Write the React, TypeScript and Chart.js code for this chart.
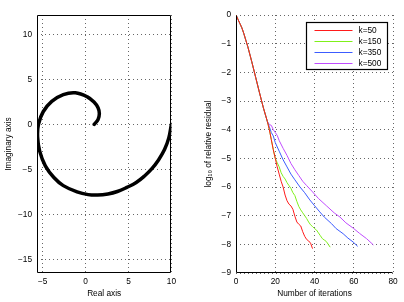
import React, { useEffect, useRef } from "react";
import { Chart, registerables } from "chart.js";
Chart.register(...registerables);

// ---- Left panel: spiral in the complex plane ----
const spiralRe = [1.0, 1.45, 1.6, 1.45, 1.0, 0.2, -1.2, -2.6, -3.95, -4.95, -5.5, -5.6, -5.35, -4.7, -3.7, -2.6, -1.0, 0.3, 1.4, 2.6, 3.7, 4.8, 5.9, 6.9, 7.7, 8.5, 9.2, 9.7, 10.0];
const spiralIm = [0.0, 0.55, 1.2, 1.85, 2.45, 3.05, 3.5, 3.3, 2.55, 1.4, 0.0, -1.4, -3.0, -4.6, -5.9, -6.8, -7.5, -7.8, -7.85, -7.72, -7.45, -7.0, -6.45, -5.7, -4.95, -3.95, -2.8, -1.5, 0.0];
const leftXTicks = [-5, 0, 5, 10];
const leftYTicks = [-15, -10, -5, 0, 5, 10];

// ---- Right panel: convergence histories ----
const rightXTicks = [0, 20, 40, 60, 80];
const rightYTicks = [-9, -8, -7, -6, -5, -4, -3, -2, -1, 0];
const seriesLabels = ["k=50", "k=150", "k=350", "k=500"];
const seriesColors = ["#ff1a1a", "#7ff01a", "#3c5cff", "#c04cff"];

const k50Iter = [0, 1, 2, 3, 4, 5, 6, 8, 10, 12, 14, 16, 17, 18, 19, 20, 21, 22, 23, 24, 25, 26, 27, 28, 29, 30, 31, 32, 33, 34, 35, 36, 37, 38, 39];
const k50Res = [0, -0.15, -0.3, -0.45, -0.65, -0.88, -1.1, -1.62, -2.17, -2.72, -3.25, -3.72, -4.0, -4.35, -4.7, -5.0, -5.3, -5.55, -5.8, -6.0, -6.28, -6.48, -6.6, -6.66, -6.78, -7.02, -7.22, -7.3, -7.36, -7.56, -7.72, -7.83, -7.88, -7.96, -8.15];

const k150Iter = [0, 1, 2, 3, 4, 5, 6, 8, 10, 12, 14, 16, 17, 18, 19, 20, 21, 22, 23, 24, 25, 26, 27, 28, 29, 30, 31, 32, 33, 34, 35, 36, 37, 38, 39, 40, 41, 42, 43, 44, 45, 46, 47, 48];
const k150Res = [0, -0.15, -0.3, -0.45, -0.65, -0.88, -1.1, -1.62, -2.17, -2.72, -3.25, -3.72, -4.0, -4.35, -4.7, -5.0, -5.15, -5.3, -5.5, -5.63, -5.72, -5.85, -5.95, -6.05, -6.2, -6.3, -6.5, -6.68, -6.8, -6.9, -7.0, -7.1, -7.22, -7.32, -7.38, -7.45, -7.5, -7.6, -7.7, -7.8, -7.85, -7.9, -8.0, -8.1];

const k350Iter = [0, 1, 2, 3, 4, 5, 6, 8, 10, 12, 14, 16, 17, 18, 19, 20, 22, 24, 26, 28, 30, 32.6, 35, 37.6, 40, 42.7, 45, 48.7, 51, 54.6, 57, 59.7, 62];
const k350Res = [0, -0.15, -0.3, -0.45, -0.65, -0.88, -1.1, -1.62, -2.17, -2.72, -3.25, -3.72, -3.9, -4.1, -4.22, -4.45, -4.75, -5.05, -5.3, -5.55, -5.75, -6.0, -6.2, -6.45, -6.65, -6.87, -7.05, -7.28, -7.45, -7.63, -7.78, -7.92, -8.07];

const k500Iter = [0, 1, 2, 3, 4, 5, 6, 8, 10, 12, 14, 16, 17, 18, 19, 20, 21, 22, 24, 26, 28, 30, 32, 34, 36, 39, 42, 46, 50, 53, 56, 60, 63, 66.5, 70];
const k500Res = [0, -0.15, -0.3, -0.45, -0.65, -0.88, -1.1, -1.62, -2.17, -2.72, -3.25, -3.72, -3.82, -3.85, -4.0, -4.1, -4.2, -4.38, -4.65, -4.9, -5.18, -5.4, -5.6, -5.8, -5.95, -6.17, -6.4, -6.65, -6.9, -7.05, -7.25, -7.45, -7.62, -7.8, -8.02];

const seriesIters = [k50Iter, k150Iter, k350Iter, k500Iter];
const seriesRes = [k50Res, k150Res, k350Res, k500Res];

const FONT = "'Liberation Sans', Arial, Helvetica, sans-serif";
const FS = 8.3;

const fmt = (v: number) => (v < 0 ? "\u2212" + Math.abs(v) : String(v));

const gridOpts = {
  color: "rgba(0,0,0,0.6)",
  lineWidth: 1,
  drawTicks: false,
  tickLength: 0,
};

function axis(
  ticks: number[],
  min: number,
  max: number,
  title: string,
  horizontal: boolean,
  size: number
) {
  return {
    type: "linear",
    min,
    max,
    position: horizontal ? "bottom" : "left",
    afterBuildTicks: (s: any) => {
      s.ticks = ticks.map((v) => ({ value: v }));
    },
    afterFit: (s: any) => {
      if (horizontal) s.height = size;
      else s.width = size;
    },
    grid: gridOpts,
    border: { display: false, dash: [1, 3] },
    ticks: {
      padding: horizontal ? 4 : 5,
      color: "#000",
      font: { family: FONT, size: FS },
      callback: (v: any) => fmt(Number(v)),
      autoSkip: false,
      maxRotation: 0,
    },
    title: {
      display: true,
      text: title,
      color: "#000",
      font: { family: FONT, size: FS },
      padding: { top: 4, bottom: 3 },
    },
  };
}

function boxPlugin(sides: { top: boolean; right: boolean }) {
  return {
    id: "box",
    afterDraw(chart: any) {
      const { ctx, chartArea: a } = chart;
      ctx.save();
      ctx.strokeStyle = "#000";
      ctx.lineWidth = 1;
      ctx.beginPath();
      const l = Math.round(a.left) + 0.5;
      const r = Math.round(a.right) - 0.5;
      const t = Math.round(a.top) + 0.5;
      const b = Math.round(a.bottom) - 0.5;
      ctx.moveTo(l, t);
      ctx.lineTo(l, b);
      ctx.lineTo(r, b);
      if (sides.right) ctx.lineTo(r, t);
      if (sides.top) ctx.lineTo(l, t);
      ctx.stroke();
      ctx.restore();
    },
  };
}

const legendPlugin = {
  id: "matlabLegend",
  afterDraw(chart: any) {
    const { ctx, chartArea: a } = chart;
    const right = Math.round(a.right - 6) + 0.5;
    const top = Math.round(a.top + 7) + 0.5;
    const w = 81;
    const h = 47;
    const left = right - w;
    ctx.save();
    ctx.fillStyle = "#fff";
    ctx.fillRect(left, top, w, h);
    ctx.strokeStyle = "#000";
    ctx.lineWidth = 1.2;
    ctx.strokeRect(left, top, w, h);
    ctx.font = `${FS}px ${FONT}`;
    ctx.textBaseline = "middle";
    ctx.textAlign = "left";
    chart.data.datasets.forEach((ds: any, i: number) => {
      const y = Math.round(top + 7 + i * 11) + 0.5;
      ctx.strokeStyle = ds.borderColor;
      ctx.lineWidth = 1;
      ctx.beginPath();
      ctx.moveTo(left + 8, y);
      ctx.lineTo(left + 46, y);
      ctx.stroke();
      ctx.fillStyle = "#000";
      ctx.fillText(ds.label, left + 52, y);
    });
    ctx.restore();
  },
};

function LeftChart() {
  const ref = useRef<HTMLCanvasElement | null>(null);
  useEffect(() => {
    const chart = new Chart(ref.current as HTMLCanvasElement, {
      type: "scatter",
      data: {
        datasets: [
          {
            label: "spiral",
            data: spiralRe.map((x, i) => ({ x, y: spiralIm[i] })),
            showLine: true,
            borderColor: "#000",
            borderWidth: 3.5,
            pointRadius: 0,
            tension: 0.4,
            borderCapStyle: "round",
          },
        ],
      },
      options: {
        animation: false,
        responsive: false,
        maintainAspectRatio: false,
        layout: { padding: { top: 15, right: 3, left: 0, bottom: 0 } },
        plugins: { legend: { display: false }, tooltip: { enabled: false } },
        scales: {
          x: axis(leftXTicks, -5.67, 10, "Real axis", true, 29),
          y: axis(leftYTicks, -16.5, 12.14, "Imaginary axis", false, 37),
        },
      } as any,
      plugins: [boxPlugin({ top: true, right: true })],
    });
    return () => chart.destroy();
  }, []);
  return (
    <canvas
      ref={ref}
      width={180}
      height={302}
      style={{ position: "absolute", left: 0, top: 0, width: 180, height: 302 }}
    />
  );
}

function RightChart() {
  const ref = useRef<HTMLCanvasElement | null>(null);
  useEffect(() => {
    const chart = new Chart(ref.current as HTMLCanvasElement, {
      type: "line",
      data: {
        datasets: seriesLabels.map((label, i) => ({
          label,
          data: seriesIters[i].map((x, j) => ({ x, y: seriesRes[i][j] })),
          borderColor: seriesColors[i],
          backgroundColor: seriesColors[i],
          borderWidth: 1,
          pointRadius: 0,
          tension: 0,
          fill: false,
        })),
      },
      options: {
        animation: false,
        responsive: false,
        maintainAspectRatio: false,
        layout: { padding: { top: 15, right: 11, left: 0, bottom: 0 } },
        plugins: { legend: { display: false }, tooltip: { enabled: false } },
        scales: {
          x: axis(rightXTicks, 0, 80, "Number of iterations", true, 29),
          y: axis(rightYTicks, -9, 0, "log\u2081\u2080 of relative residual", false, 36),
        },
      } as any,
      plugins: [boxPlugin({ top: false, right: false }), legendPlugin],
    });
    return () => chart.destroy();
  }, []);
  return (
    <canvas
      ref={ref}
      width={204}
      height={302}
      style={{ position: "absolute", left: 200, top: 0, width: 204, height: 302 }}
    />
  );
}

export default function App() {
  return (
    <div
      style={{
        position: "absolute",
        left: 0,
        top: 0,
        width: 404,
        height: 302,
        background: "#fff",
      }}
    >
      <LeftChart />
      <RightChart />
    </div>
  );
}
